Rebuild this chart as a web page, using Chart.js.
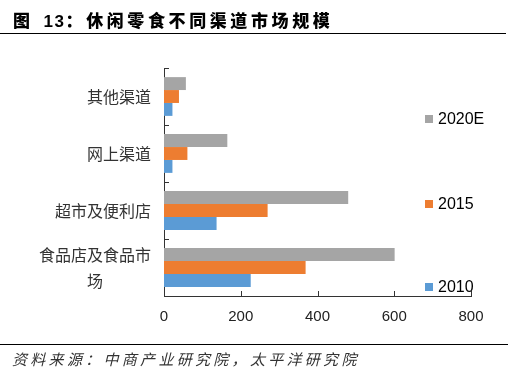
<!DOCTYPE html>
<html><head><meta charset="utf-8">
<script src="https://cdn.jsdelivr.net/npm/chart.js@4/dist/chart.umd.min.js"></script>
<style>
html,body{margin:0;padding:0;background:#fff;}
#wrap{position:relative;width:508px;height:374px;overflow:hidden;background:#fff;}
#title{position:absolute;left:13px;top:8px;font:900 17px "Noto Sans CJK SC";letter-spacing:3.6px;color:#000;white-space:nowrap;line-height:24px;}
#title .num{letter-spacing:1.5px;margin-left:10px;font-family:"Liberation Sans",Arial,sans-serif;font-weight:700;}
#rule1{position:absolute;left:0;top:33px;width:506px;height:0;border-top:1.5px solid #000;}
#rule2{position:absolute;left:0;top:344px;width:508px;height:0;border-top:1px solid #000;}
#source{position:absolute;left:12px;top:348px;font:italic 15px "Noto Sans CJK SC";letter-spacing:3.3px;color:#333;white-space:nowrap;line-height:22px;}
canvas{position:absolute;left:0;top:0;}
</style>
</head><body>
<div id="wrap">
<canvas id="c" width="508" height="374"></canvas>
<div id="title">图<span class="num">13</span>：休闲零食不同渠道市场规模</div>
<div id="rule1"></div>
<div id="rule2"></div>
<div id="source">资料来源：中商产业研究院，太平洋研究院</div>
</div>
<script>
const categories = ['其他渠道', '网上渠道', '超市及便利店', '食品店及食品市场'];
const seriesNames = ['2020E', '2015', '2010'];
const values2020E = [57, 165, 480, 601];
const values2015 = [39, 61, 270, 369];
const values2010 = [22, 22, 137, 226];
const xTicks = [0, 200, 400, 600, 800];
const seriesColors = ['#A5A5A5', '#ED7D31', '#5B9BD5'];

const innerTicks = {
  id: 'innerTicks',
  afterDraw(chart) {
    const {ctx, scales: {x, y}} = chart;
    ctx.save();
    ctx.strokeStyle = '#333';
    ctx.lineWidth = 1;
    ctx.beginPath();
    x.ticks.forEach(t => {
      const px = Math.round(x.getPixelForValue(t.value)) + 0.5;
      ctx.moveTo(px, y.bottom);
      ctx.lineTo(px, y.bottom - 5);
    });
    for (let i = 0; i <= categories.length; i++) {
      const py = Math.round(y.getPixelForValue(i - 0.5)) + 0.5;
      ctx.moveTo(x.left, py);
      ctx.lineTo(x.left + 5, py);
    }
    ctx.stroke();
    ctx.restore();
  }
};

const sideLegend = {
  id: 'sideLegend',
  afterDraw(chart, args, opts) {
    const ctx = chart.ctx;
    ctx.save();
    ctx.font = '16px "Liberation Sans", Arial, sans-serif';
    ctx.textBaseline = 'middle';
    ctx.textAlign = 'left';
    chart.data.datasets.forEach((ds, i) => {
      const yy = opts.ys[i];
      ctx.fillStyle = ds.backgroundColor;
      ctx.fillRect(opts.x, yy - 4, 8, 8);
      ctx.fillStyle = '#000';
      ctx.fillText(ds.label, opts.x + 13, yy + 1);
    });
    ctx.restore();
  }
};

new Chart(document.getElementById('c'), {
  type: 'bar',
  data: {
    labels: categories,
    datasets: [
      {label: seriesNames[0], data: values2020E, backgroundColor: seriesColors[0]},
      {label: seriesNames[1], data: values2015, backgroundColor: seriesColors[1]},
      {label: seriesNames[2], data: values2010, backgroundColor: seriesColors[2]}
    ]
  },
  options: {
    indexAxis: 'y',
    responsive: false,
    animation: false,
    devicePixelRatio: 1,
    datasets: {bar: {categoryPercentage: 0.68, barPercentage: 1, borderWidth: 0}},
    layout: {padding: {top: 68, right: 37, bottom: 48, left: 0}},
    plugins: {
      legend: {display: false},
      tooltip: {enabled: false},
      sideLegend: {x: 425, ys: [119, 204, 287]}
    },
    scales: {
      x: {
        min: 0, max: 800,
        z: 1,
        afterBuildTicks(scale) { scale.ticks = xTicks.map(v => ({value: v})); },
        grid: {display: false, drawTicks: false},
        border: {display: true, color: '#333', width: 1},
        ticks: {padding: 12, color: '#222', font: {family: '"Liberation Sans", Arial, sans-serif', size: 15}},
        afterFit(scale) { scale.height = 30; }
      },
      y: {
        z: 1,
        grid: {display: false, drawTicks: false},
        border: {display: true, color: '#333', width: 1},
        ticks: {
          padding: 13,
          color: '#333',
          font: {family: '"Noto Sans CJK SC", sans-serif', size: 16, lineHeight: 1.625},
          callback(value, index) {
            const s = categories[index];
            if (s.length > 7) return [s.slice(0, 7), s.slice(7) + '\u3000\u3000\u3000'];
            return s;
          }
        },
        afterFit(scale) { scale.width = 164; }
      }
    }
  },
  plugins: [innerTicks, sideLegend]
});
</script>
</body></html>
